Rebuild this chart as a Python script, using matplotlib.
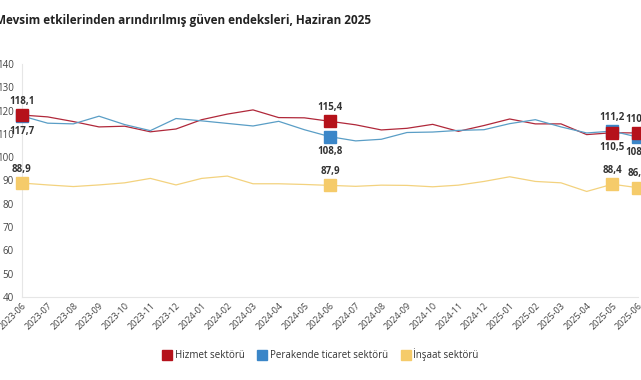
import matplotlib
matplotlib.use("Agg")
import matplotlib.pyplot as plt
from matplotlib.lines import Line2D

plt.rcParams['font.family'] = ['Open Sans', 'DejaVu Sans']

months = ["2023-06", "2023-07", "2023-08", "2023-09", "2023-10", "2023-11", "2023-12",
          "2024-01", "2024-02", "2024-03", "2024-04", "2024-05", "2024-06", "2024-07",
          "2024-08", "2024-09", "2024-10", "2024-11", "2024-12", "2025-01", "2025-02",
          "2025-03", "2025-04", "2025-05", "2025-06"]

hizmet = [118.1, 117.3, 115.3, 113.0, 113.3, 110.9, 112.1, 116.1, 118.5, 120.3, 117.0,
          116.9, 115.4, 113.9, 111.7, 112.4, 114.1, 111.1, 113.6, 116.4, 114.3, 114.3,
          109.7, 110.5, 110.4]
perakende = [117.7, 114.6, 114.3, 117.6, 114.0, 111.4, 116.6, 115.6, 114.5, 113.4, 115.4,
             111.8, 108.8, 107.0, 107.7, 110.6, 110.8, 111.5, 111.8, 114.4, 116.1, 113.0,
             110.4, 111.2, 108.6]
insaat = [88.9, 88.1, 87.4, 88.1, 89.0, 90.9, 88.1, 90.9, 91.9, 88.6, 88.6, 88.3, 87.9,
          87.5, 88.0, 87.9, 87.3, 88.0, 89.6, 91.6, 89.6, 89.0, 85.3, 88.4, 86.9]

series_names = ["Hizmet sektörü", "Perakende ticaret sektörü", "İnşaat sektörü"]
yticks = [40, 50, 60, 70, 80, 90, 100, 110, 120, 130, 140]
highlight_idx = [0, 12, 23, 24]

title = "Mevsim etkilerinden arındırılmış güven endeksleri, Haziran 2025"

line_colors = ["#B0283A", "#5A9EC6", "#F3D27E"]
marker_colors = ["#B5121B", "#3A86C8", "#F5CB6A"]

fig = plt.figure(figsize=(6.41, 3.80), dpi=100)
ax = fig.add_axes([22 / 641, 1 - 297 / 380, 616 / 641, (297 - 64) / 380])

x = list(range(len(months)))
data = [hizmet, perakende, insaat]

for vals, lc in zip(data, line_colors):
    ax.plot(x, vals, color=lc, lw=0.9, zorder=2, clip_on=False)

order = [1, 0, 2]
for si in order:
    vals = data[si]
    ax.plot([x[i] for i in highlight_idx], [vals[i] for i in highlight_idx],
            ls='none', marker='s', ms=9, color=marker_colors[si],
            mec=marker_colors[si], zorder=3 + (1 if si == 0 else 0), clip_on=False)

def fmt(v):
    return f"{v:.1f}".replace(".", ",")

for i in highlight_idx:
    h, p = hizmet[i], perakende[i]
    hi, lo = (h, p) if h >= p else (p, h)
    ax.annotate(fmt(hi), (x[i], hi), xytext=(0, 6), textcoords='offset points',
                ha='center', va='bottom', fontsize=7, fontweight='bold', color='#333333',
                annotation_clip=False)
    ax.annotate(fmt(lo), (x[i], lo), xytext=(0, -7), textcoords='offset points',
                ha='center', va='top', fontsize=7, fontweight='bold', color='#333333',
                annotation_clip=False)
    ax.annotate(fmt(insaat[i]), (x[i], insaat[i]), xytext=(0, 6), textcoords='offset points',
                ha='center', va='bottom', fontsize=7, fontweight='bold', color='#333333',
                annotation_clip=False)

ax.set_xlim(0, len(months) - 1)
ax.set_ylim(40, 140)
ax.set_yticks(yticks)
ax.set_yticklabels([str(t) for t in yticks], fontsize=7, color='#444444')
ax.set_xticks(x)
ax.set_xticklabels(months, rotation=45, ha='right', rotation_mode='anchor',
                   fontsize=6.5, color='#444444')
ax.tick_params(axis='both', length=0, pad=3)
ax.tick_params(axis='y', pad=6)

for s in ['top', 'right']:
    ax.spines[s].set_visible(False)
for s in ['left', 'bottom']:
    ax.spines[s].set_color('#E6E6E6')
    ax.spines[s].set_linewidth(0.8)

fig.text(-0.008, 0.945, title, fontsize=8.5, fontweight='bold', color='#222222',
         ha='left', va='center')

handles = [Line2D([0], [0], ls='none', marker='s', ms=7, color=c) for c in marker_colors]
fig.legend(handles, series_names, loc='center', bbox_to_anchor=(0.5, 0.066), ncol=3,
           frameon=False, fontsize=7, handletextpad=0.3, columnspacing=1.3,
           handlelength=1.0, labelcolor='#333333')

fig.savefig("out.png", dpi=100)
